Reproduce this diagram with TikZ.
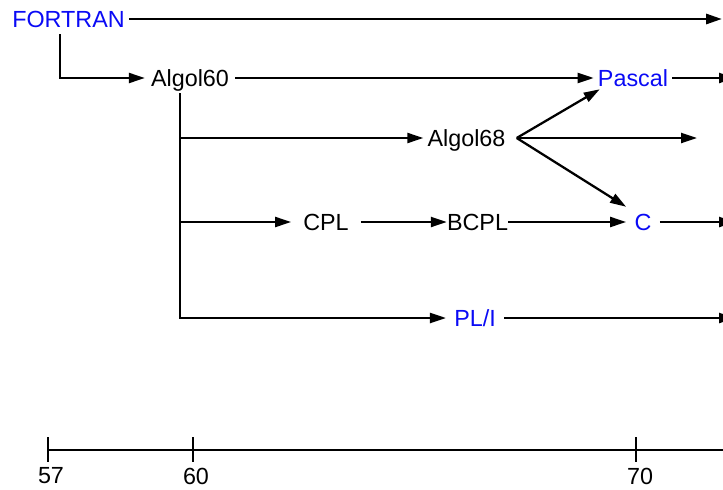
\documentclass[tikz,border=0pt]{standalone}
\usepackage{fontspec}
\setmainfont{Liberation Sans}
\usetikzlibrary{arrows.meta, calc}
\definecolor{langblue}{HTML}{0A0AF5}
\tikzset{
  LANG/.style={text=#1, font=\fontsize{17.5}{20}\selectfont,
    inner xsep=3pt, inner ysep=1pt, text height=16.5pt, text depth=4pt},
  LANG/.default=black,
  YEAR/.style={font=\fontsize{17.5}{20}\selectfont,
    inner sep=0.5pt, text height=12.5pt, text depth=0pt},
  ARR/.style={-{Triangle[length=12pt,width=7.5pt]}, line width=1.7pt},
  TICK/.style={line width=#1},
}

\begin{document}
\begin{tikzpicture}[x=0.75pt, y=-0.75pt]
  \useasboundingbox (0,0) rectangle (723,489);
  \node[LANG=langblue] (fortran) at (68.5,19) {FORTRAN};
  \node[LANG, inner xsep=4.5pt] (algol60) at (190,78) {Algol60};
  \node[LANG] (algol68) at (466.5,138) {Algol68};
  \node[LANG, minimum width=52pt] (cpl) at (326,222) {CPL};
  \node[LANG, inner xsep=0pt] (bcpl) at (477.5,222) {BCPL};
  \node[LANG=langblue] (pascal) at (633,78) {Pascal};
  \node[LANG=langblue, minimum width=25pt] (c) at (643,222) {C};
  \node[LANG=langblue, inner xsep=6pt] (pli) at (475,318) {PL/I};
  \coordinate (fbend) at (60,78);
  \coordinate (trunk) at (180,318);
  \coordinate (fend) at (722,19);
  \coordinate (a68) at ($(algol68.east)+(7,0)$);
  \coordinate (a68end) at (697,138);
  \coordinate (pascalend) at (735,78);
  \coordinate (cend) at (735,222);
  \coordinate (pliend) at (735,318);
  \draw[ARR, line width=2.2pt] (fortran.east) -- (fend);
  \draw[ARR] (fortran.south -| fbend) -- (fbend) -- (algol60.west);
  \draw[ARR] (algol60.east) -- (pascal.west);
  \draw[ARR] (algol60.south -| trunk) -- (trunk) -- (pli.west);
  \draw[ARR] (trunk |- algol68) -- (algol68.west);
  \draw[ARR] (trunk |- cpl) -- (cpl.west);
  \draw[ARR] (cpl.east) -- (bcpl.west);
  \draw[ARR] (bcpl.east) -- (c.west);
  \draw[ARR] (a68) -- ($(pascal.south west)+(6,-4)$);
  \draw[ARR] (a68) -- (a68end);
  \draw[ARR] (a68) -- (c.north west);
  \draw[ARR] (pascal.east) -- (pascalend);
  \draw[ARR] (c.east) -- (cend);
  \draw[ARR] (pli.east) -- (pliend);
  \coordinate (tl0) at (48,450);
  \coordinate (tl1) at (730,450);
  \draw[line width=2pt] (tl0) -- (tl1);
  \foreach \x/\lx/\ly/\yr/\w in {48/51/475/57/2.2pt, 193/196/476/60/2.2pt, 636/640/476/70/1.4pt}{
    \draw[TICK=\w] (\x,437) -- (\x,462);
    \node[YEAR] (y\yr) at (\lx,\ly) {\yr};}
\end{tikzpicture}
\end{document}
